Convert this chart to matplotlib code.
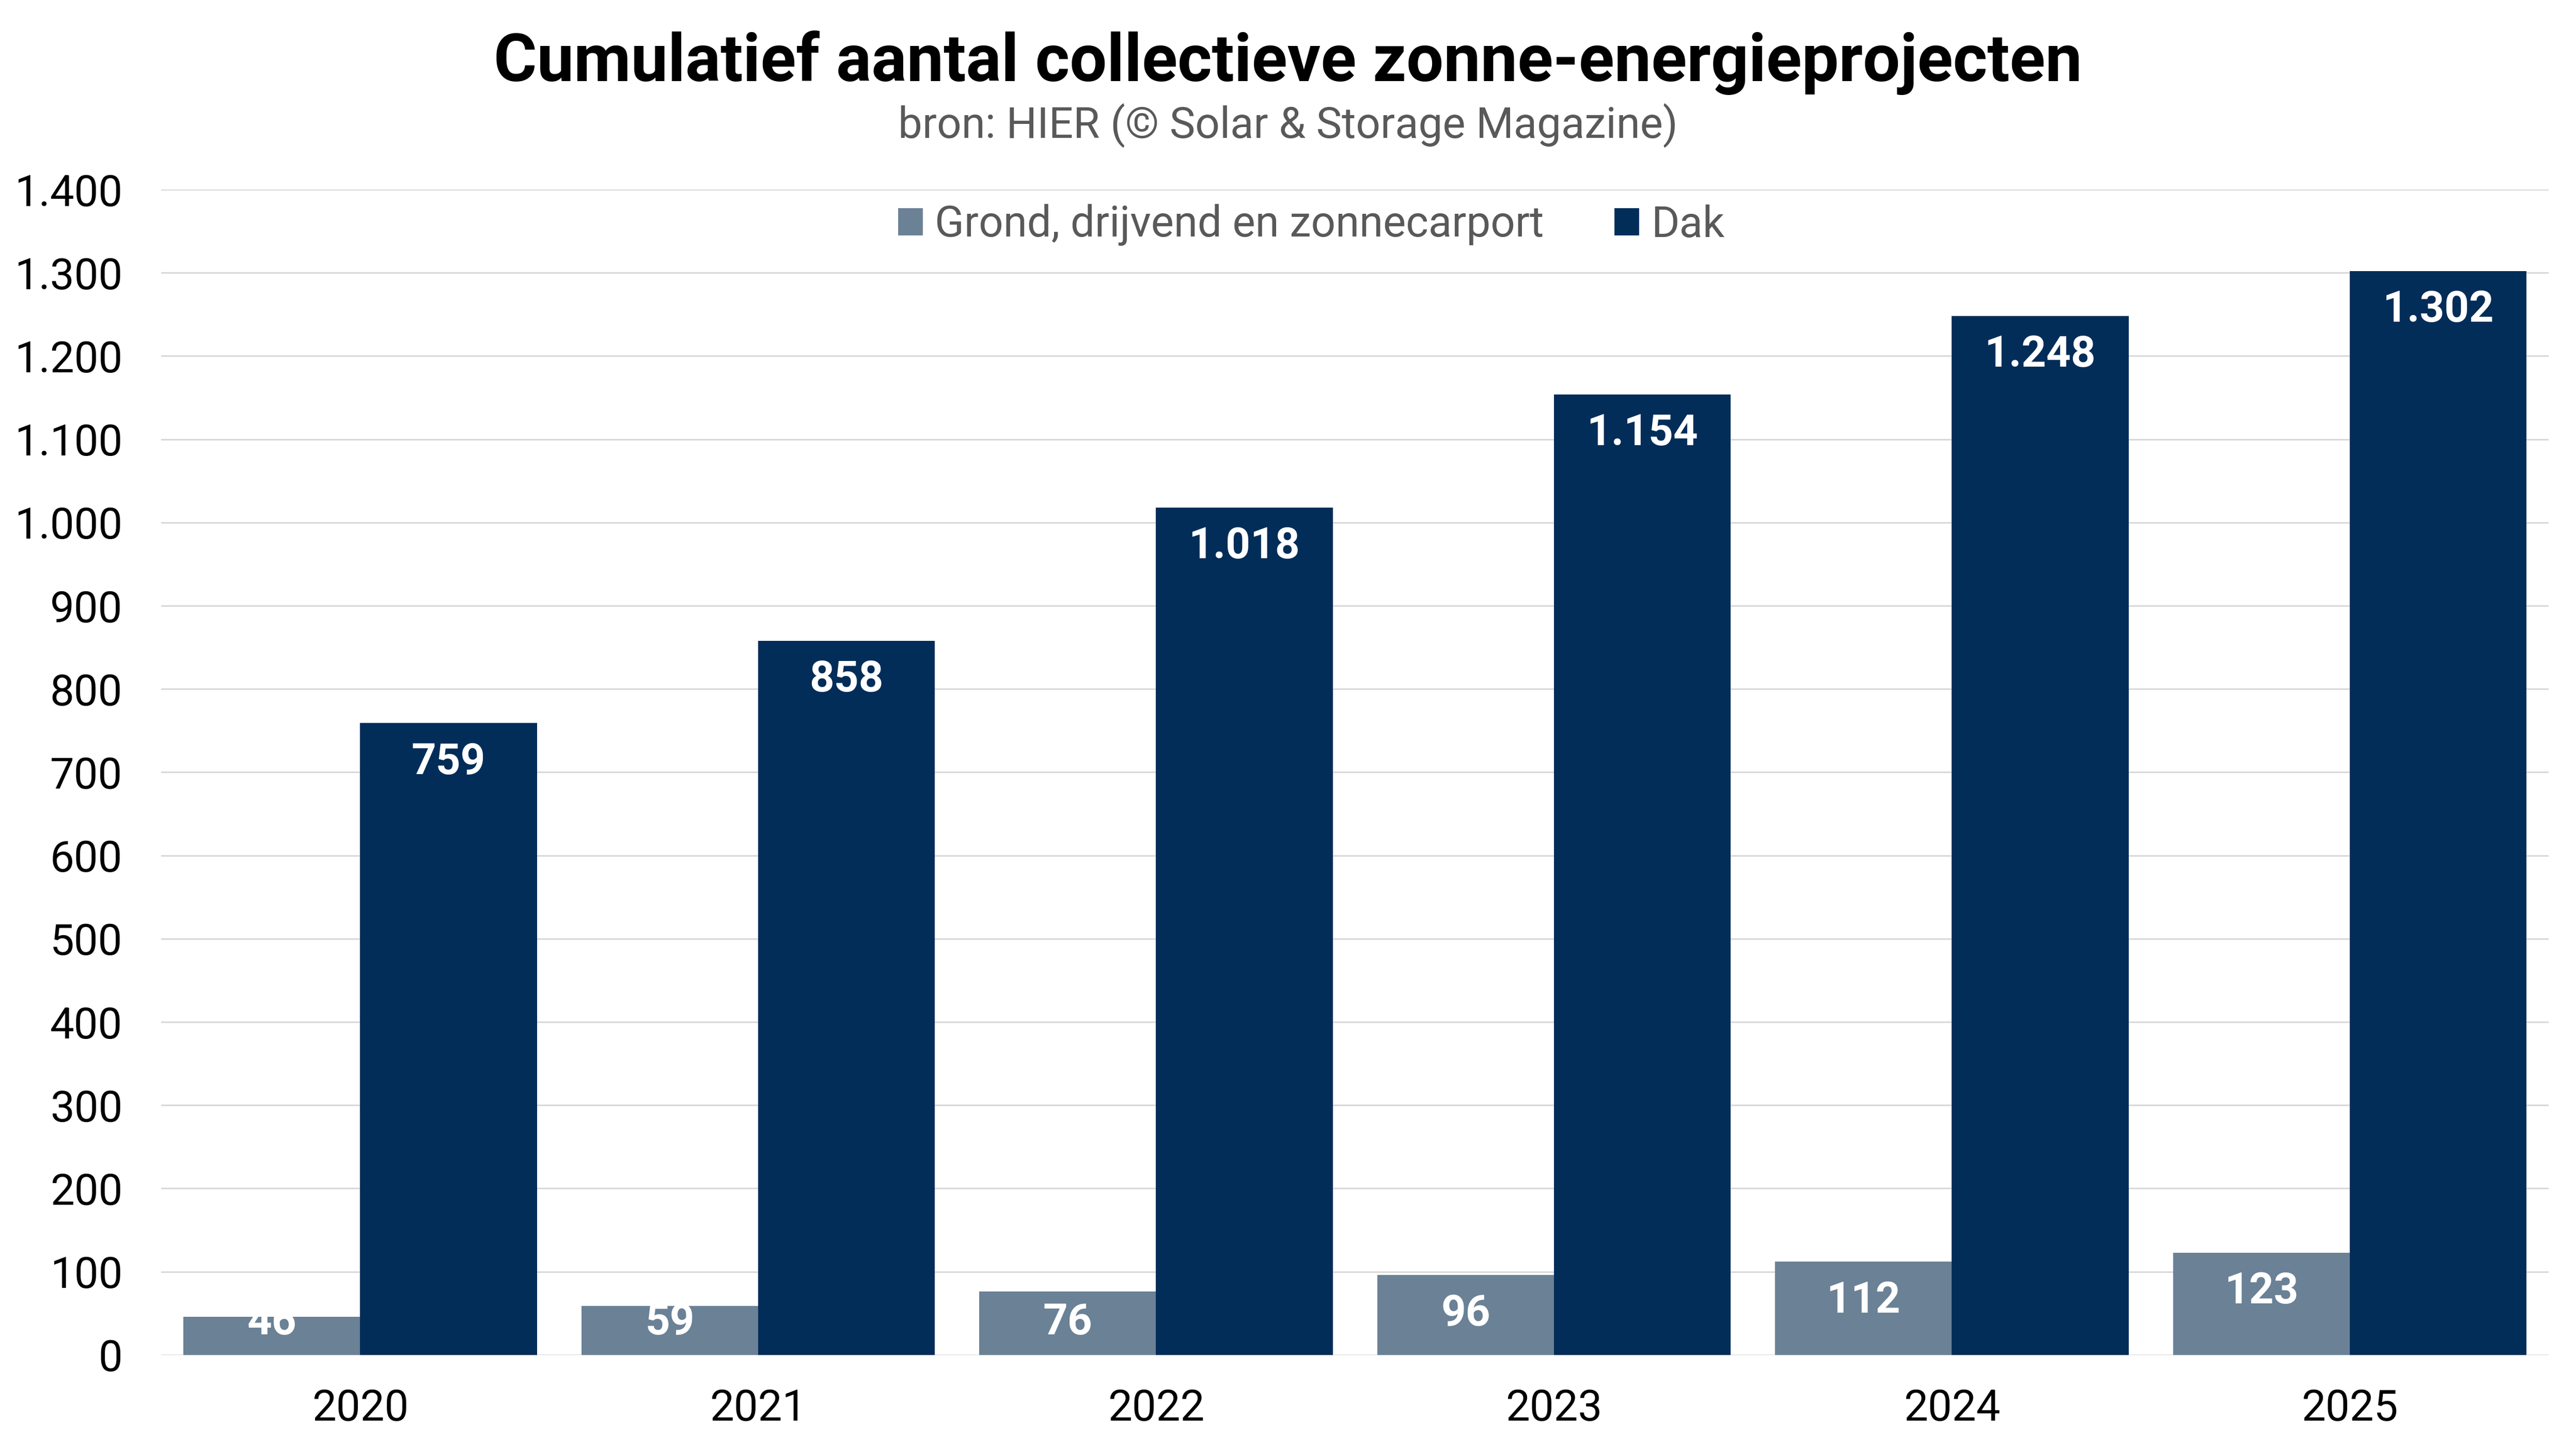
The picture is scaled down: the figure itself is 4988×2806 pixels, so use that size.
import numpy as np
import matplotlib.pyplot as plt
from matplotlib.patches import Patch
from matplotlib.ticker import FuncFormatter, MultipleLocator

plt.rcParams['font.family'] = ['Roboto', 'DejaVu Sans']

years = ['2020', '2021', '2022', '2023', '2024', '2025']
grond = [46, 59, 76, 96, 112, 123]
dak = [759, 858, 1018, 1154, 1248, 1302]
series_names = ['Grond, drijvend en zonnecarport', 'Dak']
colors = ['#6A8196', '#022D59']

def nl(v):
    return f"{v:,.0f}".replace(',', '.')

fig = plt.figure(figsize=(24.94, 14.03), dpi=200)
ax = fig.add_axes([0.0626, 0.0649, 0.9268, 0.8043])

x = np.arange(len(years))
w = 0.444
b1 = ax.bar(x - w / 2, grond, w, color=colors[0], zorder=2)
b2 = ax.bar(x + w / 2, dak, w, color=colors[1], zorder=2)

# value labels, white, inside the top of each bar
for bars, vals in ((b1, grond), (b2, dak)):
    for r, v in zip(bars, vals):
        ax.text(r.get_x() + r.get_width() / 2, max(v - 61, 25), nl(v),
                ha='center', va='baseline', color='white',
                fontsize=30, fontweight='bold', zorder=3)

ax.set_xlim(-0.5, 5.5)
ax.set_ylim(0, 1400)
ax.yaxis.set_major_locator(MultipleLocator(100))
ax.yaxis.set_major_formatter(FuncFormatter(lambda v, p: nl(v)))
ax.set_xticks(x)
ax.set_xticklabels(years)
ax.tick_params(axis='both', length=0, labelsize=30, colors='black')
ax.tick_params(axis='x', pad=23)
ax.tick_params(axis='y', pad=27)
ax.grid(axis='y', color='#D9D9D9', linewidth=1.1, zorder=0)
ax.set_axisbelow(True)
for s in ax.spines.values():
    s.set_visible(False)

fig.text(0.5, 1 - 157 / 2806, 'Cumulatief aantal collectieve zonne-energieprojecten',
         ha='center', va='baseline', fontsize=46, fontweight='bold', color='black')
fig.text(0.5, 1 - 267 / 2806, 'bron: HIER (© Solar & Storage Magazine)',
         ha='center', va='baseline', fontsize=30, color='#595959')

handles = [Patch(color=c) for c in colors]
leg = fig.legend(handles, series_names, loc='center', ncol=2,
                 bbox_to_anchor=(2540 / 4988, 1 - 436 / 2806),
                 frameon=False, fontsize=30, handlelength=0.53, handleheight=0.53,
                 handletextpad=0.31, columnspacing=1.65, borderpad=0)
for t in leg.get_texts():
    t.set_color('#595959')

fig.savefig('out.png', dpi=200, facecolor='white')
